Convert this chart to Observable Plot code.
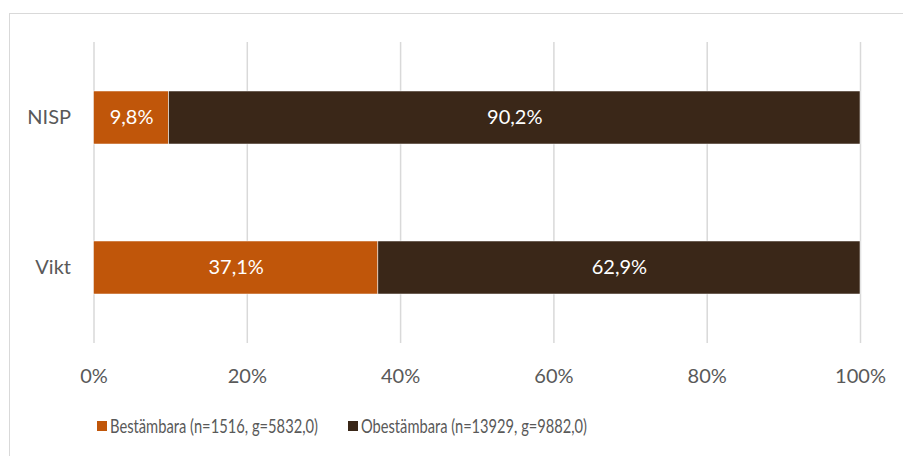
<!DOCTYPE html>
<html>
<head>
<meta charset="utf-8">
<script src="https://cdn.jsdelivr.net/npm/d3@7"></script>
<script src="https://cdn.jsdelivr.net/npm/@observablehq/plot@0.6"></script>
<style>
  html, body { margin: 0; padding: 0; background: #fff; }
  #wrap { position: relative; width: 903px; height: 456px; overflow: hidden; font-family: Lato, "Open Sans", sans-serif; }
  #frame { position: absolute; left: 9px; top: 13px; width: 903px; height: 460px; border: 1px solid #d9d9d9; box-sizing: border-box; }
  #chart { position: absolute; left: 0; top: 0; }
  #legend { position: absolute; left: 0; top: 413px; width: 903px; height: 24px; }
  .item { position: absolute; top: 0; height: 24px; }
  .sw { position: absolute; left: 0; top: 8px; width: 10px; height: 10px; }
  .lbl { position: absolute; left: 13px; top: 0; line-height: 24px; color: #595959; font-size: 20px; white-space: nowrap; transform-origin: 0 50%; display: inline-block; }
</style>
</head>
<body>
<div id="wrap">
  <div id="frame"></div>
  <div id="chart"></div>
  <div id="legend"></div>
</div>
<script>
const categories = ["NISP", "Vikt"];
const seriesNames = ["Bestämbara (n=1516, g=5832,0)", "Obestämbara (n=13929, g=9882,0)"];
const bestambara = [9.8, 37.1];
const obestambara = [90.2, 62.9];
const xTicks = [0, 20, 40, 60, 80, 100];
const colors = ["#c0560a", "#3a2718"];

const data = [];
categories.forEach((c, i) => {
  data.push({cat: c, series: seriesNames[0], value: bestambara[i]});
  data.push({cat: c, series: seriesNames[1], value: obestambara[i]});
});
const fmt = v => v.toFixed(1).replace(".", ",") + "%";

const plot = Plot.plot({
  width: 903,
  height: 400,
  marginLeft: 93.5,
  marginRight: 43,
  marginTop: 42,
  marginBottom: 57,
  style: {fontFamily: "Lato, 'Open Sans', sans-serif", fontSize: "20px", color: "#595959", background: "transparent"},
  x: {domain: [0, 100], ticks: xTicks, tickFormat: d => d + "%", tickSize: 0, tickPadding: 25, label: null},
  y: {domain: categories, paddingInner: 0.648, paddingOuter: 0.324, tickSize: 0, tickPadding: 23, label: null},
  color: {domain: seriesNames, range: colors},
  marks: [
    Plot.ruleX(xTicks, {stroke: "#d9d9d9", strokeWidth: 1.5}),
    Plot.barX(data, Plot.stackX({x: "value", y: "cat", fill: "series", stroke: "#ffffff", strokeWidth: 0.5, order: seriesNames})),
    Plot.text(data, Plot.stackX({x: "value", y: "cat", z: "series", order: seriesNames, text: d => fmt(d.value), fill: "white", fontSize: 20})),
    Plot.axisX({ticks: xTicks, tickFormat: d => d + "%", tickSize: 0, tickPadding: 25, fill: "#595959"}),
    Plot.axisY({tickSize: 0, tickPadding: 23, fill: "#595959"})
  ]
});
document.getElementById("chart").appendChild(plot);

// Legend (Calibri-like narrow width emulated by horizontal scaling)
const legend = document.getElementById("legend");
const lefts = [97, 348];
const textWidths = [208, 226];
seriesNames.forEach((s, i) => {
  const it = document.createElement("div");
  it.className = "item";
  it.style.left = lefts[i] + "px";
  const sw = document.createElement("span");
  sw.className = "sw";
  sw.style.background = colors[i];
  it.appendChild(sw);
  const lbl = document.createElement("span");
  lbl.className = "lbl";
  lbl.textContent = s;
  it.appendChild(lbl);
  legend.appendChild(it);
  const w = lbl.getBoundingClientRect().width;
  if (w > 0) lbl.style.transform = `scaleX(${textWidths[i] / w})`;
});
</script>
</body>
</html>
